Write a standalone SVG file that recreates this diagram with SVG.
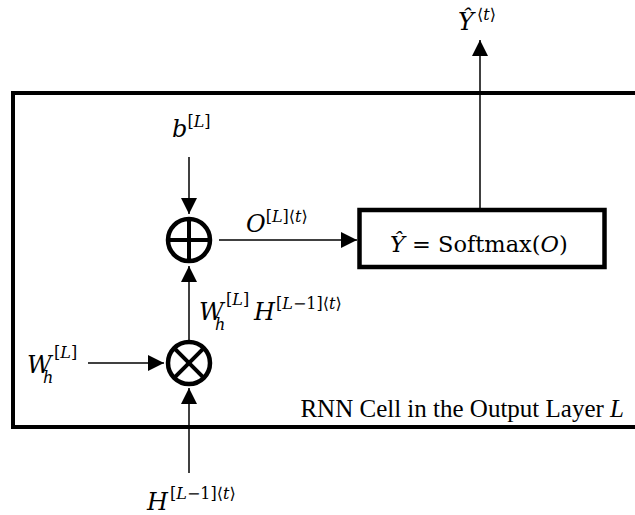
<svg xmlns="http://www.w3.org/2000/svg" width="635" height="515" viewBox="0 0 635 515">
<defs>
<style>
.m{font-family:"DejaVu Serif",serif;font-size:24px;font-style:italic;fill:#000}
.s{font-size:16px}
.u{font-style:normal}
.t{font-family:"Liberation Serif",serif;font-size:25px;fill:#000}
.ln{stroke:#000;stroke-width:1.5;fill:none}
.op{fill:#fff;stroke:#000;stroke-width:4.5}
.bar{stroke:#000;stroke-width:4}
.bx{fill:#fff;stroke:#000;stroke-width:4.5}
</style>
<marker id="ah" viewBox="0 0 16 16" refX="16" refY="8" markerWidth="16" markerHeight="16" markerUnits="userSpaceOnUse" orient="auto">
<path d="M0,0 L16,8 L0,16 z" fill="#000"/>
</marker>
</defs>
<rect width="635" height="515" fill="#fff"/>
<g id="cell">
<rect x="13" y="93" width="640" height="334" fill="none" stroke="#000" stroke-width="4"/>
<text class="t" x="624" y="417" text-anchor="end">RNN Cell in the Output Layer <tspan font-style="italic">L</tspan></text>
</g>
<g id="connectors">
<line class="ln" x1="189" y1="157" x2="189" y2="214" marker-end="url(#ah)"/>
<line class="ln" x1="189" y1="340" x2="189" y2="266" marker-end="url(#ah)"/>
<line class="ln" x1="88" y1="363" x2="164" y2="363" marker-end="url(#ah)"/>
<line class="ln" x1="189" y1="473" x2="189" y2="388" marker-end="url(#ah)"/>
<line class="ln" x1="219" y1="240" x2="357" y2="240" marker-end="url(#ah)"/>
<line class="ln" x1="480" y1="208" x2="480" y2="40" marker-end="url(#ah)"/>
</g>
<g id="add">
<circle class="op" cx="189" cy="240" r="21"/>
<line class="bar" x1="168" y1="240" x2="210" y2="240"/>
<line class="bar" x1="189" y1="219" x2="189" y2="261"/>
</g>
<g id="mul">
<circle class="op" cx="189" cy="363" r="21"/>
<line class="bar" x1="174.2" y1="348.2" x2="203.8" y2="377.8"/>
<line class="bar" x1="203.8" y1="348.2" x2="174.2" y2="377.8"/>
</g>
<g id="softmax">
<rect class="bx" x="359.5" y="210" width="245" height="57"/>
<text class="m" x="390" y="252" style="font-size:22.5px">Ŷ <tspan class="u">= Softmax(</tspan>O<tspan class="u">)</tspan></text>
</g>
<g id="label-b">
<text class="m" x="172" y="137">b<tspan class="s" dy="-10"><tspan class="u">[</tspan>L<tspan class="u">]</tspan></tspan></text>
</g>
<g id="label-o">
<text class="m" x="246" y="232">O<tspan class="s" dy="-10"><tspan class="u">[</tspan>L<tspan class="u">]⟨</tspan>t<tspan class="u">⟩</tspan></tspan></text>
</g>
<g id="label-wh-in">
<text class="m" x="27" y="373">W</text>
<text class="m s" x="43" y="383">h</text>
<text class="m s" x="54" y="358"><tspan class="u">[</tspan>L<tspan class="u">]</tspan></text>
</g>
<g id="label-wh-h">
<text class="m" x="199" y="320">W</text>
<text class="m s" x="215" y="330">h</text>
<text class="m s" x="226" y="305"><tspan class="u">[</tspan>L<tspan class="u">]</tspan></text>
<text class="m" x="254" y="320">H<tspan class="s" x="276" y="309"><tspan class="u">[</tspan>L<tspan class="u">−1]⟨</tspan>t<tspan class="u">⟩</tspan></tspan></text>
</g>
<g id="label-h">
<text class="m" x="147" y="510">H<tspan class="s" x="170" y="499"><tspan class="u">[</tspan>L<tspan class="u">−1]⟨</tspan>t<tspan class="u">⟩</tspan></tspan></text>
</g>
<g id="label-y">
<text class="m" x="458" y="30">Ŷ<tspan class="s" x="477" y="20"><tspan class="u">⟨</tspan>t<tspan class="u">⟩</tspan></tspan></text>
</g>
</svg>
